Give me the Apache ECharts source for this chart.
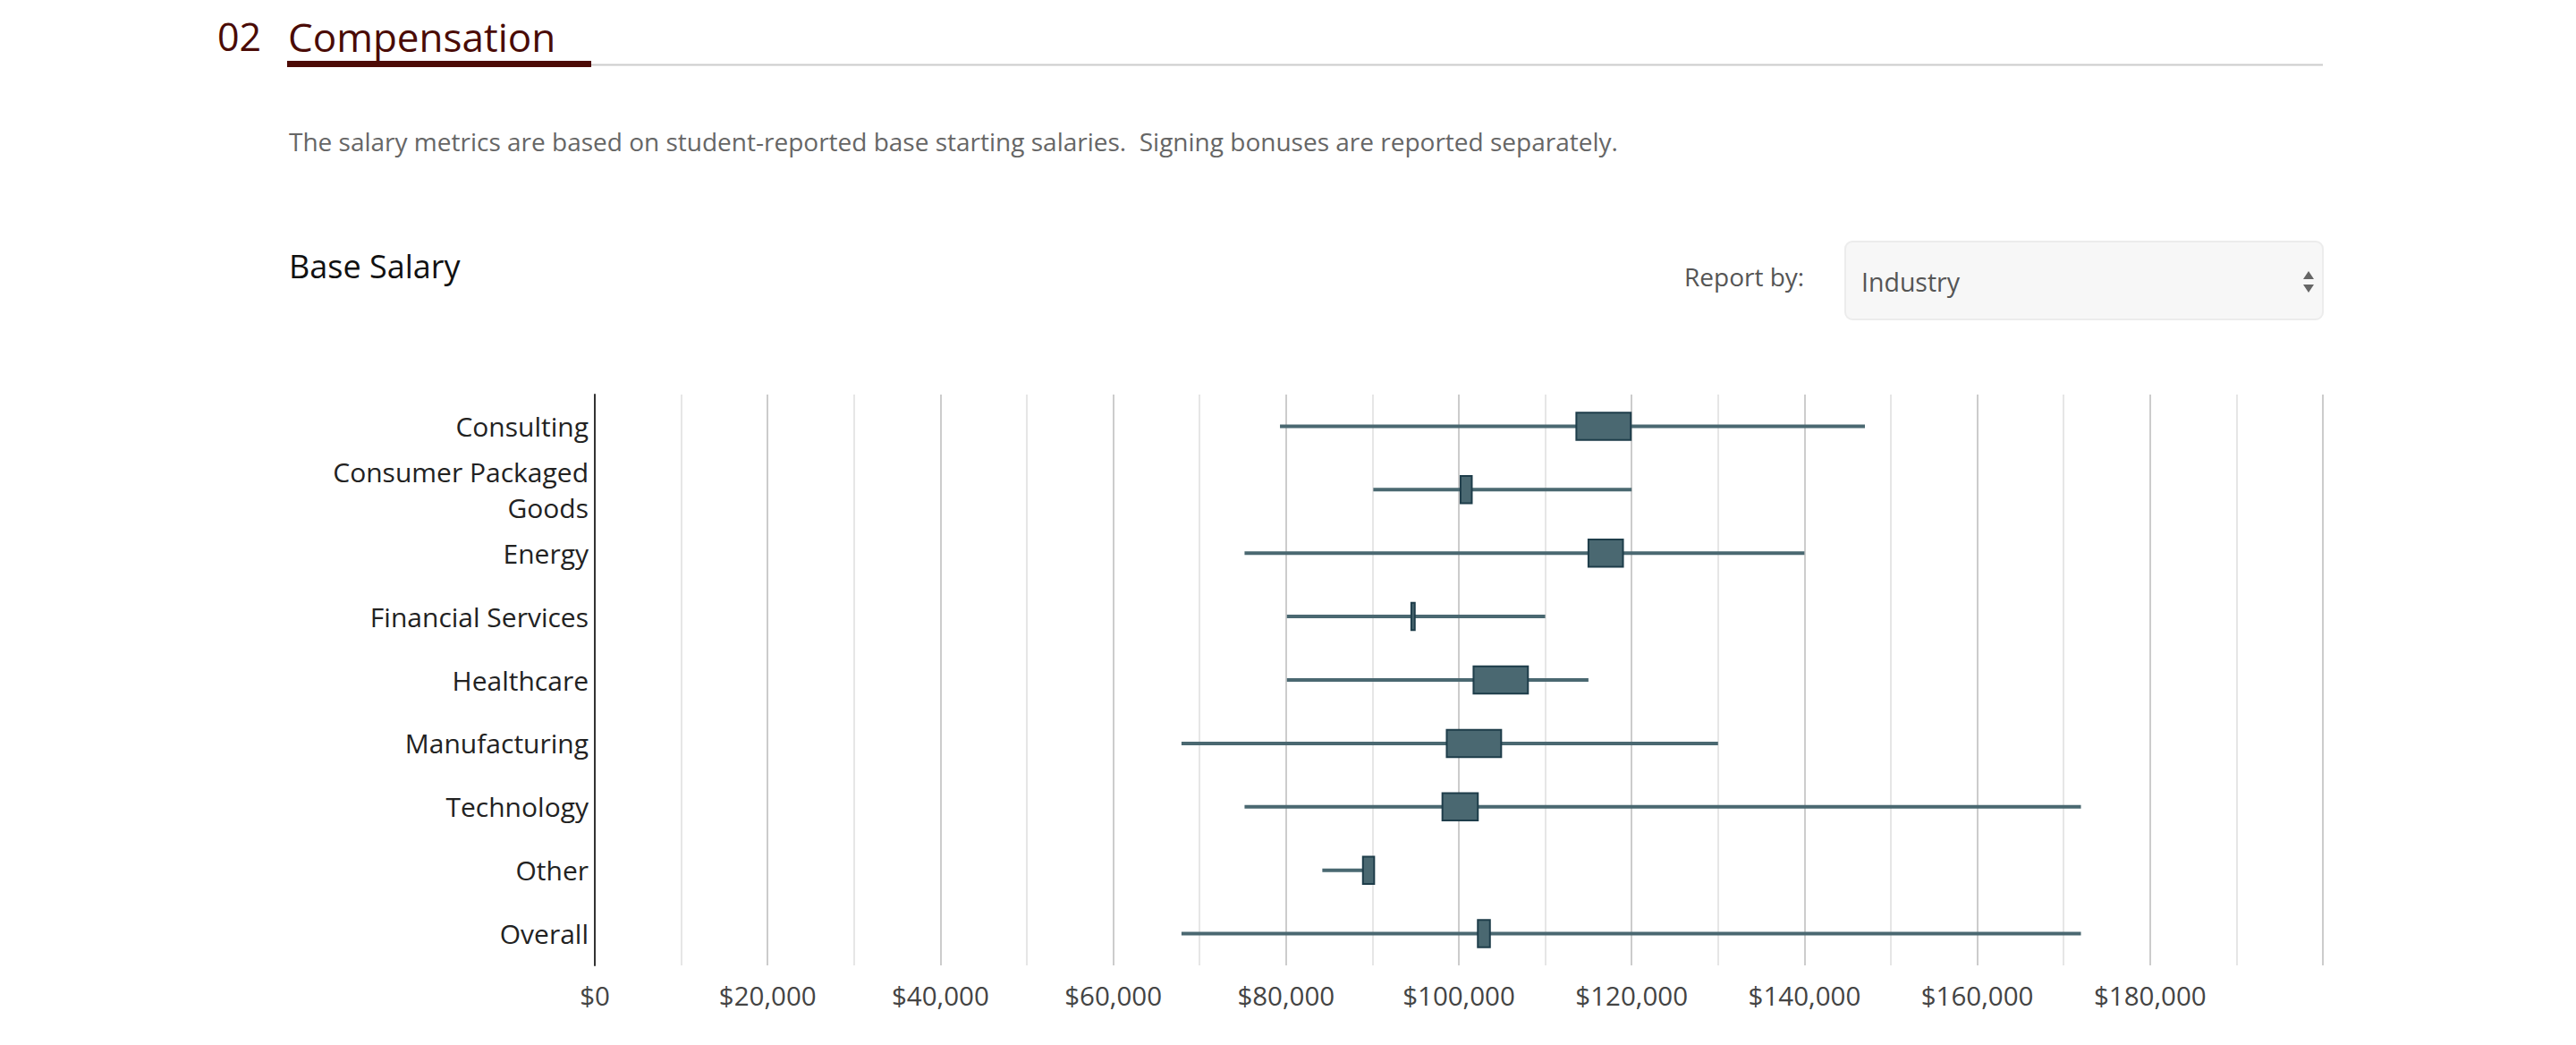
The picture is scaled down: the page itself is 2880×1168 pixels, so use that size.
<!DOCTYPE html>
<html>
<head>
<meta charset="utf-8">
<style>
html,body{margin:0;padding:0;background:#fff;}
#chart{width:2880px;height:1168px;}
</style>
<script src="https://cdn.jsdelivr.net/npm/echarts@6/dist/echarts.min.js"></script>
</head>
<body>
<div id="chart"></div>
<script>
// ---- data ----
const categories = ['Consulting', 'Consumer Packaged\nGoods', 'Energy', 'Financial Services', 'Healthcare', 'Manufacturing', 'Technology', 'Other', 'Overall'];
const minValues = [79300, 90100, 75200, 80100, 80100, 67900, 75200, 84200, 67900];
const q1Values  = [113600, 100200, 115000, 94500, 101700, 98600, 98100, 88900, 102200];
const q3Values  = [119900, 101500, 119000, 94900, 108000, 104900, 102200, 90200, 103600];
const maxValues = [147000, 120000, 140000, 110000, 115000, 130000, 172000, 90200, 172000];
const xTicks = [0, 20000, 40000, 60000, 80000, 100000, 120000, 140000, 160000, 180000];

const FONT = "'Open Sans', 'Noto Sans', sans-serif";
const chart = echarts.init(document.getElementById('chart'), null, {renderer: 'svg'});

const seriesData = categories.map((c, i) => [i, minValues[i], q1Values[i], q3Values[i], maxValues[i]]);

chart.setOption({
  animation: false,
  backgroundColor: '#ffffff',
  textStyle: {fontFamily: FONT},
  grid: {left: 665, right: 283, top: 441, bottom: 89, containLabel: false},
  xAxis: {
    type: 'value', min: 0, max: 200000, interval: 20000,
    axisLine: {show: false}, axisTick: {show: false},
    axisLabel: {
      margin: 18, fontSize: 29.5, color: '#444', fontFamily: FONT,
      formatter: v => xTicks.indexOf(v) >= 0 ? '$' + v.toLocaleString('en-US') : ''
    },
    splitLine: {show: true, lineStyle: {color: '#cccccc', width: 2}},
    minorTick: {show: false, splitNumber: 2},
    minorSplitLine: {show: true, lineStyle: {color: '#e6e6e6', width: 2}}
  },
  yAxis: {
    type: 'category', data: categories, inverse: true,
    axisLine: {show: true, lineStyle: {color: '#333', width: 2}},
    axisTick: {show: false},
    splitLine: {show: false},
    axisLabel: {margin: 7, fontSize: 30, color: '#222', lineHeight: 40, fontFamily: FONT, align: 'right'}
  },
  graphic: [
    {type: 'text', left: 243, top: 19, style: {text: '02', font: '43px ' + FONT, fill: '#4a0b06'}},
    {type: 'text', left: 322, top: 19, style: {text: 'Compensation', font: '44px ' + FONT, fill: '#4a0b06'}},
    {type: 'rect', shape: {x: 661, y: 71.5, width: 1936, height: 2}, style: {fill: '#cccccc'}},
    {type: 'rect', shape: {x: 321, y: 68, width: 340, height: 7}, style: {fill: '#4d0b06'}},
    {type: 'text', left: 323, top: 144, style: {text: 'The salary metrics are based on student-reported base starting salaries.\u00a0 Signing bonuses are reported separately.', font: '28px ' + FONT, fill: '#666666'}},
    {type: 'text', left: 323, top: 279, style: {text: 'Base Salary', font: '36px ' + FONT, fill: '#111111'}},
    {type: 'text', left: 1883, top: 295, style: {text: 'Report by:', font: '28px ' + FONT, fill: '#555555'}},
    {type: 'rect', shape: {x: 2063, y: 270, width: 534, height: 87, r: 8}, style: {fill: '#f7f7f7', stroke: '#ececec', lineWidth: 2}},
    {type: 'text', left: 2081, top: 300, style: {text: 'Industry', font: '28.5px ' + FONT, fill: '#555555'}},
    {type: 'polygon', shape: {points: [[2575, 312], [2587, 312], [2581, 303]]}, style: {fill: '#666'}},
    {type: 'polygon', shape: {points: [[2575, 318], [2587, 318], [2581, 327]]}, style: {fill: '#666'}}
  ],
  series: [{
    type: 'custom',
    data: seriesData,
    encode: {x: [1, 2, 3, 4], y: 0},
    renderItem: function (params, api) {
      const cat = api.value(0);
      const lo = api.coord([api.value(1), cat]);
      const q1 = api.coord([api.value(2), cat]);
      const q3 = api.coord([api.value(3), cat]);
      const hi = api.coord([api.value(4), cat]);
      const band = api.size([0, 1])[1];
      const h = band * 0.43;
      return {
        type: 'group',
        children: [
          {type: 'line', shape: {x1: lo[0], y1: lo[1], x2: hi[0], y2: hi[1]}, style: {stroke: '#4a6871', lineWidth: 4}},
          {type: 'rect', shape: {x: q1[0], y: q1[1] - h / 2, width: Math.max(q3[0] - q1[0], 2), height: h}, style: {fill: '#4a6871', stroke: '#1e3d4a', lineWidth: 2}}
        ]
      };
    }
  }]
});
</script>
</body>
</html>
